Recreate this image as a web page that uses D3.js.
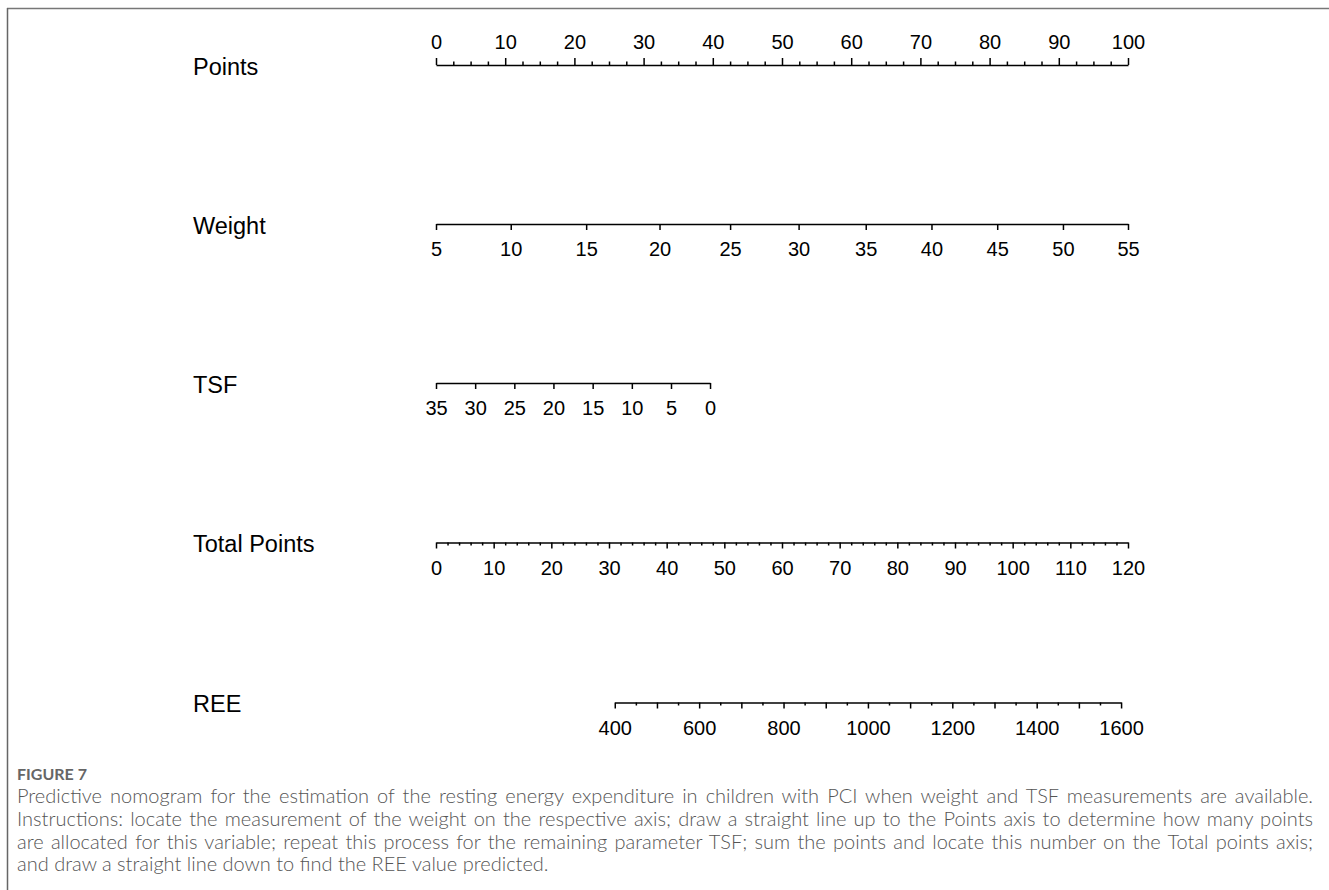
<!DOCTYPE html>
<html><head><meta charset="utf-8">
<script src="https://cdn.jsdelivr.net/npm/d3@7"></script>
<style>
body{margin:0;background:#fff;}
#wrap{position:relative;width:1329px;height:890px;overflow:hidden;background:#fff;}
svg{position:absolute;left:0;top:0;}
.fig{position:absolute;left:17px;top:765px;font-family:Lato,"Open Sans",sans-serif;font-weight:700;font-size:16px;line-height:17px;color:#666;white-space:nowrap;}
.cap{position:absolute;left:17px;top:784px;width:1296px;font-family:Lato,"Open Sans",sans-serif;font-weight:300;font-size:20px;line-height:22.8px;color:#555;}
.cap div{text-align:justify;white-space:nowrap;}
.cap div.j{text-align-last:justify;}
</style></head><body><div id="wrap"></div>
<script>
// ---- data ----
const rowLabels = ["Points", "Weight", "TSF", "Total Points", "REE"];
const pointsTicks = [0, 10, 20, 30, 40, 50, 60, 70, 80, 90, 100];
const weightTicks = [5, 10, 15, 20, 25, 30, 35, 40, 45, 50, 55];
const weightPoints = [0, 10.8, 21.7, 32.3, 42.5, 52.4, 62.1, 71.6, 81.1, 90.6, 100];
const tsfTicks = [35, 30, 25, 20, 15, 10, 5, 0];
const tsfPoints = [0, 5.66, 11.32, 16.97, 22.64, 28.3, 33.96, 39.6];
const totalTicks = [0, 10, 20, 30, 40, 50, 60, 70, 80, 90, 100, 110, 120];
const reeTicks = [400, 600, 800, 1000, 1200, 1400, 1600];
const reeRange = [400, 1600];
const reeTotalPoints = [31.0, 118.8];
const captionTitle = "FIGURE 7";
const captionLines = [
  "Predictive nomogram for the estimation of the resting energy expenditure in children with PCI when weight and TSF measurements are available.",
  "Instructions: locate the measurement of the weight on the respective axis; draw a straight line up to the Points axis to determine how many points",
  "are allocated for this variable; repeat this process for the remaining parameter TSF; sum the points and locate this number on the Total points axis;",
  "and draw a straight line down to find the REE value predicted."
];

// ---- layout ----
const W = 1329, H = 890;
const x0 = 436, x1 = 1128;
const rowY = [65, 224, 383, 542.5, 702.5];
const labelX = 193;
const font = "'Liberation Sans', Arial, sans-serif";

const wrap = d3.select("#wrap");
const svg = wrap.append("svg").attr("width", W).attr("height", H);

// frame lines
svg.append("line").attr("x1", 7).attr("x2", W).attr("y1", 8.5).attr("y2", 8.5)
  .attr("stroke", "#777").attr("stroke-width", 1.5);
svg.append("line").attr("x1", 7.5).attr("x2", 7.5).attr("y1", 8).attr("y2", H)
  .attr("stroke", "#666").attr("stroke-width", 1.5);

// scales
const pointsScale = d3.scaleLinear().domain([0, 100]).range([x0, x1]);
const totalScale = d3.scaleLinear().domain([0, 120]).range([x0, x1]);
const weightScale = d3.scaleLinear().domain(weightTicks).range(weightPoints.map(p => pointsScale(p)));
const tsfScale = d3.scaleLinear().domain(tsfTicks).range(tsfPoints.map(p => pointsScale(p)));
const reeScale = d3.scaleLinear().domain(reeRange).range(reeTotalPoints.map(p => totalScale(p)));

// row labels
svg.selectAll("text.rowlab").data(rowLabels).join("text")
  .attr("class", "rowlab")
  .attr("x", labelX).attr("y", (d, i) => rowY[i] + 9.5)
  .attr("font-family", font).attr("font-size", 23.5).attr("fill", "#000")
  .text(d => d);

function styleAxis(g) {
  g.selectAll(".domain").attr("stroke", "#000").attr("stroke-width", 1.6);
  g.selectAll(".tick line").attr("stroke", "#000").attr("stroke-width", 1.5);
  g.selectAll(".tick text").attr("font-family", font).attr("font-size", 20).attr("fill", "#000");
}
function minorAxis(axisFn, scale, values, size, y) {
  const g = svg.append("g").attr("transform", `translate(0,${y})`)
    .call(axisFn(scale).tickValues(values).tickSize(size).tickFormat(() => "").tickSizeOuter(0));
  g.select(".domain").remove();
  styleAxis(g);
}
function majorAxis(axisFn, scale, values, size, pad, y, fmt) {
  const g = svg.append("g").attr("transform", `translate(0,${y})`)
    .call(axisFn(scale).tickValues(values).tickSize(size).tickPadding(pad).tickSizeOuter(0)
      .tickFormat(fmt || (d => d)));
  styleAxis(g);
  return g;
}

// Points axis (ticks up)
minorAxis(d3.axisTop, pointsScale, d3.range(0, 100.01, 2.5).filter(v => v % 10 !== 0), 3.5, rowY[0]);
majorAxis(d3.axisTop, pointsScale, pointsTicks, 7, 9, rowY[0]);

// Weight axis
majorAxis(d3.axisBottom, weightScale, weightTicks, 6, 12, rowY[1]);

// TSF axis
majorAxis(d3.axisBottom, tsfScale, tsfTicks, 6, 12, rowY[2]);

// Total Points axis
minorAxis(d3.axisBottom, totalScale, d3.range(0, 120.01, 2).filter(v => v % 10 !== 0), 3, rowY[3]);
majorAxis(d3.axisBottom, totalScale, totalTicks, 6, 12, rowY[3]);

// REE axis
minorAxis(d3.axisBottom, reeScale, d3.range(450, 1600, 100), 3, rowY[4]);
majorAxis(d3.axisBottom, reeScale, d3.range(400, 1600.01, 100), 6, 12, rowY[4],
  d => reeTicks.includes(d) ? d : "");

// caption
wrap.append("div").attr("class", "fig").text(captionTitle);
const cap = wrap.append("div").attr("class", "cap");
cap.selectAll("div").data(captionLines).join("div")
  .attr("class", (d, i) => i < captionLines.length - 1 ? "j" : null)
  .text(d => d);
</script>
</body></html>
